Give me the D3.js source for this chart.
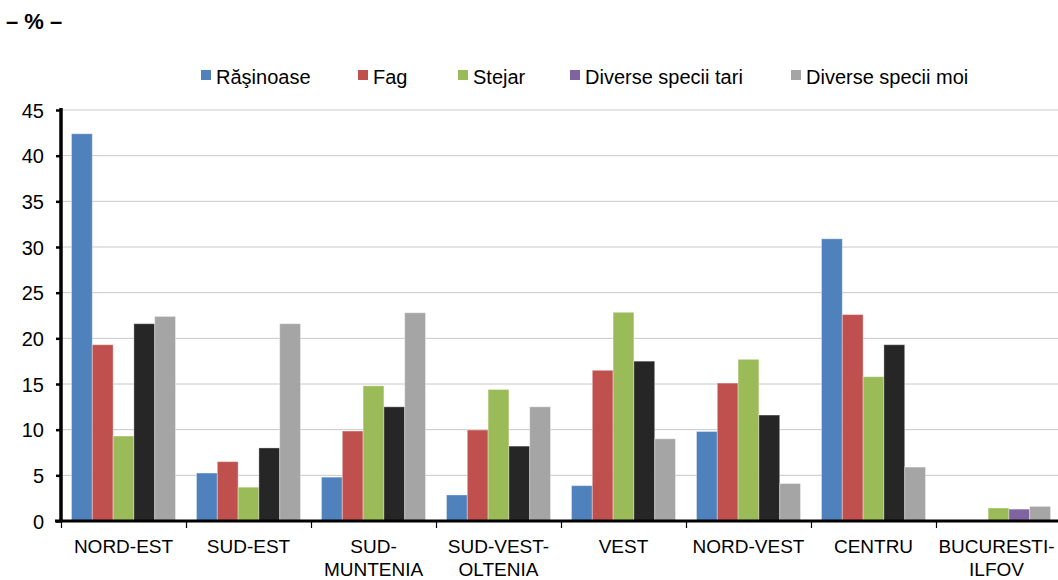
<!DOCTYPE html>
<html><head><meta charset="utf-8">
<script src="https://cdn.jsdelivr.net/npm/d3@7"></script>
<style>body{margin:0;background:#fff}svg{display:block;font-family:"Liberation Sans",Arial,sans-serif}</style>
</head><body><svg id="c" width="1058" height="580"></svg>
<script>
const categories = [["NORD-EST"],["SUD-EST"],["SUD-","MUNTENIA"],["SUD-VEST-","OLTENIA"],["VEST"],["NORD-VEST"],["CENTRU"],["BUCURESTI-","ILFOV"]];
const seriesNames = ["Răşinoase","Fag","Stejar","Diverse specii tari","Diverse specii moi"];
const rasinoase = [42.4, 5.25, 4.8, 2.85, 3.87, 9.8, 30.9, 0];
const fag = [19.3, 6.5, 9.85, 9.96, 16.5, 15.1, 22.6, 0];
const stejar = [9.3, 3.7, 14.8, 14.4, 22.85, 17.7, 15.8, 1.42];
const speciiTari = [21.6, 8.0, 12.5, 8.2, 17.5, 11.6, 19.3, 1.3];
const speciiMoi = [22.4, 21.6, 22.8, 12.5, 9.0, 4.1, 5.9, 1.6];
const yTicks = [0,5,10,15,20,25,30,35,40,45];

const seriesValues = [rasinoase, fag, stejar, speciiTari, speciiMoi];
const colors = ["#4F81BD","#C0504D","#9BBB59","#8064A2","#A5A5A5"];
// in the original, "Diverse specii tari" bars are drawn dark except the last region
const tariBarColor = (i) => i === categories.length - 1 ? "#8064A2" : "#262626";

const svg = d3.select("#c");
const FS = 20;
const pL = 61, pR = 1061, pT = 110, pB = 521;
const x = d3.scaleBand().domain(d3.range(categories.length)).range([pL, pR]).paddingInner(0.168).paddingOuter(0.084);
const xb = d3.scaleBand().domain(d3.range(categories.length)).range([pL, pR]);
const xs = d3.scaleBand().domain(d3.range(seriesNames.length)).range([0, x.bandwidth()]);
const y = d3.scaleLinear().domain([0,45]).range([pB, pT]);

// gridlines
svg.append("g").selectAll("line").data(yTicks.filter(d=>d>0)).join("line")
  .attr("x1", pL).attr("x2", 1058).attr("y1", d=>y(d)).attr("y2", d=>y(d))
  .attr("stroke", "#C8C8C8").attr("stroke-width", 1);

// bars
const groups = svg.append("g").selectAll("g").data(categories).join("g")
  .attr("transform", (d,i)=>`translate(${x(i)},0)`);
groups.each(function(cat, ci){
  d3.select(this).selectAll("rect").data(seriesValues.map((s,si)=>({si, v:s[ci]}))).join("rect")
    .attr("x", d=>xs(d.si)).attr("width", xs.bandwidth())
    .attr("y", d=>y(d.v)).attr("height", d=>pB - y(d.v))
    .attr("fill", d=> d.si===3 ? tariBarColor(ci) : colors[d.si])
    .attr("stroke", "rgba(255,255,255,0.35)").attr("stroke-width", 1);
});

// y axis
const yAxis = svg.append("g").attr("transform", `translate(${pL},0)`)
  .call(d3.axisLeft(y).tickValues(yTicks).tickSize(5).tickPadding(12));
yAxis.attr("font-size", null).attr("font-family", null);
yAxis.select(".domain").attr("stroke","#000").attr("stroke-width",3.5).attr("d", `M0,${pT-2}V${pB+1}`);
yAxis.selectAll(".tick line").attr("stroke","#000").attr("stroke-width",2.5);
yAxis.selectAll(".tick text").attr("font-size", FS).attr("fill","#000").attr("dy","0.36em");

// x axis
svg.append("line").attr("x1", pL-6).attr("x2", 1058).attr("y1", pB).attr("y2", pB)
  .attr("stroke","#000").attr("stroke-width",3);
svg.append("g").selectAll("line").data(d3.range(categories.length)).join("line")
  .attr("x1", d=>xb(d)+0.5).attr("x2", d=>xb(d)+0.5).attr("y1", pB).attr("y2", pB+7)
  .attr("stroke","#000").attr("stroke-width",1.2);
const xl = svg.append("g").selectAll("text").data(categories).join("text")
  .attr("x", (d,i)=>xb(i)+xb.bandwidth()/2 - (i===categories.length-1?2:0)).attr("y", 553)
  .attr("text-anchor","middle").attr("font-size",19).attr("fill","#000");
xl.each(function(d){
  const tx = d3.select(this).attr("x");
  d3.select(this).selectAll("tspan").data(d).join("tspan")
    .attr("x", tx).attr("dy",(t,k)=>k===0?0:23).text(t=>t);
});

// legend
const legendX = [201, 358, 458, 570, 791];
const lg = svg.append("g").selectAll("g").data(seriesNames).join("g")
  .attr("transform",(d,i)=>`translate(${legendX[i]},84)`);
lg.append("rect").attr("x",0).attr("y",-14).attr("width",10).attr("height",10).attr("fill",(d,i)=>colors[i]);
lg.append("text").attr("x",15).attr("y",0).attr("font-size",FS).attr("fill","#000").text(d=>d);

// unit label
svg.append("text").attr("x",6).attr("y",29).attr("font-size",22).attr("font-weight","bold").attr("fill","#000").text("– % –");
</script></body></html>
